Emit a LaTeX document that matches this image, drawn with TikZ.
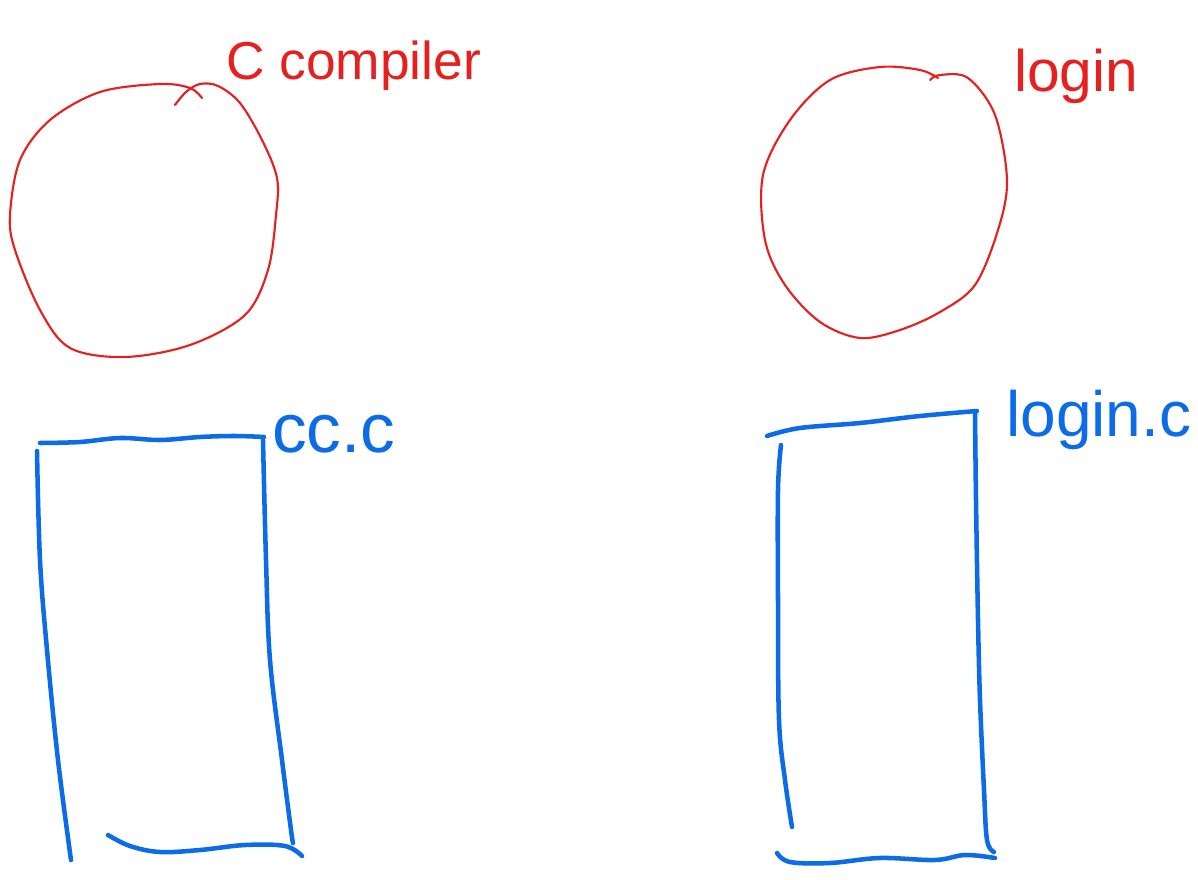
\documentclass[tikz,border=0pt]{standalone}
\usepackage{fontspec}
\setmainfont{Liberation Sans}
\definecolor{inkred}{RGB}{230,32,30}
\definecolor{inkblue}{RGB}{12,108,232}
\begin{document}
\begin{tikzpicture}[x=0.75pt,y=-0.75pt,
  redink/.style={draw=inkred,line width=1.6pt,line cap=round,line join=round},
  blueink/.style={draw=inkblue,line width=3.4pt,line cap=round,line join=round},
  redlabel/.style={text=inkred,anchor=base west,inner sep=0pt,font=\fontsize{40}{44}\selectfont},
  bluelabel/.style={text=inkblue,anchor=base west,inner sep=0pt,font=\fontsize{48}{52}\selectfont}]
\useasboundingbox (0,0) rectangle (1198,880);
% left circle (C compiler)
\draw[redink] plot[smooth,tension=0.55] coordinates {(202,98) (190,88) (160,84) (100,92) (50,120) (20,160) (10,215) (15,250) (40,310) (70,348) (125,357) (190,345) (245,315) (268,270) (276,215) (277,178) (262,140) (240,103) (218,86) (200,84) (186,92) (175,105)};
% right circle (login)
\draw[redink] plot[smooth,tension=0.55] coordinates {(930,80) (940,75) (968,78) (995,115) (1007,180) (998,230) (975,285) (940,312) (900,330) (860,338) (820,322) (785,285) (765,240) (763,175) (790,120) (830,80) (880,67) (920,70) (938,78)};
% labels
\node[redlabel] (ccomp) at (226,80) {C compiler};
\node[redlabel,font=\fontsize{44}{48}\selectfont] (login) at (1014,92) {login};
\node[bluelabel,font=\fontsize{52}{56}\selectfont] (ccc) at (272,452) {cc.c};
\node[bluelabel] (loginc) at (1006,436) {login.c};
% left rectangle
\draw[blueink] plot[smooth,tension=0.6] coordinates {(40,443) (80,442) (120,438) (160,440) (200,437) (235,436) (264,437)};
\draw[blueink] plot[smooth,tension=0.6] coordinates {(37,451) (40,560) (47,650) (58,760) (71,860)};
\draw[blueink] plot[smooth,tension=0.6] coordinates {(263,440) (266,560) (270,660) (282,760) (291,830) (293,843)};
\draw[blueink] plot[smooth,tension=0.6] coordinates {(108,835) (130,846) (160,852) (200,850) (245,845) (285,846) (302,856)};
% right rectangle
\draw[blueink] plot[smooth,tension=0.6] coordinates {(767,436) (800,428) (860,423) (920,416) (977,411)};
\draw[blueink] plot[smooth,tension=0.6] coordinates {(781,445) (778,490) (778,600) (779,720) (785,780) (792,827)};
\draw[blueink] plot[smooth,tension=0.6] coordinates {(975,413) (976,500) (978,620) (980,700) (984,790) (987,840) (994,852)};
\draw[blueink] plot[smooth,tension=0.6] coordinates {(777,853) (790,862) (830,863) (880,858) (935,860) (965,855) (995,858)};
\end{tikzpicture}
\end{document}
